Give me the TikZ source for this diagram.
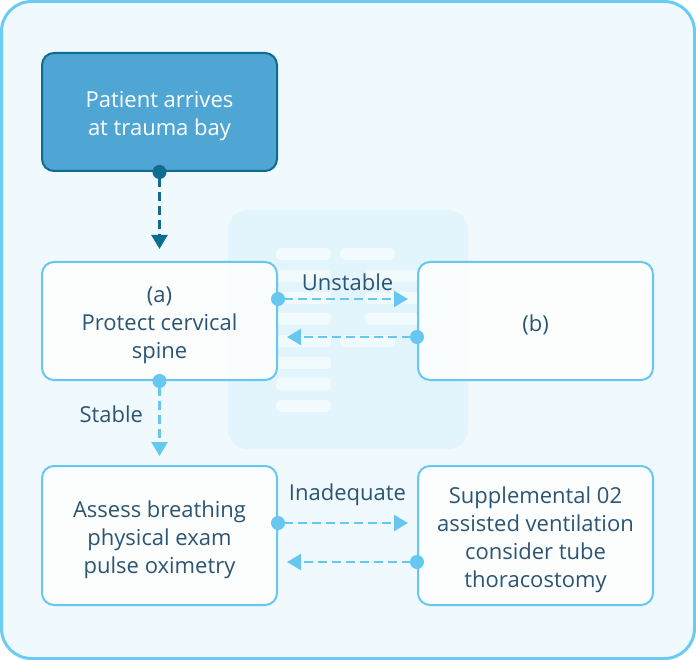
\documentclass[tikz,border=0pt]{standalone}
\usepackage{fontspec}
\setmainfont{Open Sans}
\usetikzlibrary{arrows.meta}
\definecolor{frameblue}{HTML}{6CCBF3}
\definecolor{linkblue}{HTML}{66C8F1}
\definecolor{deepteal}{HTML}{0D6D91}
\definecolor{arrivefill}{HTML}{4FA6D4}
\definecolor{inkblue}{HTML}{2C5573}
\definecolor{panelbg}{HTML}{EFF9FE}
\definecolor{ghostbg}{HTML}{E2F4FC}
\newcommand\headroom{\rule{0pt}{25pt}}
\begin{document}
\begin{tikzpicture}[x=1pt,y=-1pt,
  card/.style={draw=linkblue, line width=2pt, fill=white, fill opacity=0.85, text opacity=1,
    rounded corners=12pt, minimum width=235pt, minimum height=118pt, align=center,
    text=inkblue, font=\fontsize{22}{28}\selectfont},
  tallcard/.style={card, minimum height=139pt},
  arrivebox/.style={card, draw=deepteal, fill=arrivefill, fill opacity=1, text=white},
  link/.style={draw=linkblue, line width=2.4pt, dash pattern=on 9pt off 5pt,
    {Circle[length=14pt]}-{Triangle[length=14pt,width=16pt]}, shorten <=-7pt, shorten >=9pt},
  tag/.style={text=inkblue, font=\fontsize{22}{24}\selectfont},
  ghostbar/.style={fill=white, fill opacity=0.55, rounded corners=4pt},
]
  \useasboundingbox (0,0) rectangle (696,660);
  \draw[frameblue, line width=3pt, fill=panelbg, rounded corners=30pt] (1.5,1.5) rectangle (694.5,658.5);
  \fill[ghostbg, rounded corners=20pt] (228,210) rectangle (468,449);
  \foreach \y in {248,270,292,313,335,357,378,400}
    \fill[ghostbar] (276,\y) rectangle +(55,12);
  \foreach \y in {248,335}
    \fill[ghostbar] (340,\y) rectangle +(55,12);
  \foreach \y in {270,292,313}
    \fill[ghostbar] (365,\y) rectangle +(53,12);

  \node[arrivebox] (arrive) at (159.5,112) {\headroom Patient arrives\\at trauma bay};
  \node[card] (cspine) at (159.5,321) {\headroom(a)\\Protect cervical\\spine};
  \node[card] (boxb) at (535.5,321) {\headroom(b)};
  \node[tallcard] (breath) at (159.5,535.5) {\headroom Assess breathing\\physical exam\\pulse oximetry};
  \node[tallcard] (oxygen) at (535.5,535.5) {\headroom Supplemental 02\\assisted ventilation\\consider tube\\thoracostomy};

  \draw[link, draw=deepteal, shorten >=12pt] (arrive) -- (cspine);
  \draw[link] ([yshift=22pt]cspine.east) -- node[tag, above=4pt] {Unstable} ([yshift=22pt]boxb.west);
  \draw[link] ([yshift=-16pt]boxb.west) -- ([yshift=-16pt]cspine.east);
  \draw[link] (cspine) -- node[tag, left=12pt, pos=0.4] {Stable} (breath);
  \draw[link] ([yshift=12.5pt]breath.east) -- node[tag, above=13pt] {Inadequate} ([yshift=12.5pt]oxygen.west);
  \draw[link] ([yshift=-26.5pt]oxygen.west) -- ([yshift=-26.5pt]breath.east);
\end{tikzpicture}
\end{document}
